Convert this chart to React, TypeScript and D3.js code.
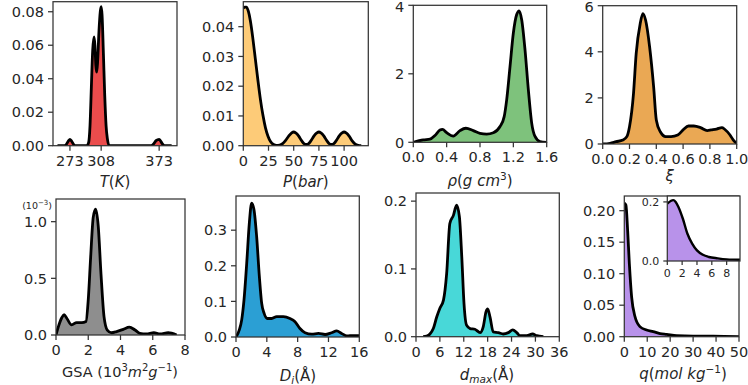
import React from "react";
import * as d3 from "d3";

// ---------- DATA ----------
const tX = [259, 267, 269.5, 271.5, 273, 274.5, 276.5, 279, 292, 294, 295.5, 297, 298.5, 300, 301, 302, 303, 304, 305.5, 307, 308, 309, 310.5, 312, 313.5, 315, 317, 364, 367, 369.5, 373, 376.5, 379, 387];
const tY = [0, 0, 0.0012, 0.003, 0.0038, 0.003, 0.0012, 0, 0, 0.002, 0.012, 0.035, 0.057, 0.065, 0.06, 0.048, 0.044, 0.05, 0.068, 0.08, 0.083, 0.078, 0.055, 0.03, 0.012, 0.004, 0, 0, 0.0012, 0.003, 0.0038, 0.0012, 0, 0];
const tTicks = [273, 308, 373];
const tYTicks = [0, 0.02, 0.04, 0.06, 0.08];

const pX = [0, 1.5, 3, 5, 7, 9.5, 12, 14.5, 17, 19.5, 22, 24.5, 27, 30, 33, 36, 39, 42, 45, 48, 50, 52, 55, 58, 60.5, 62.5, 64.5, 67, 70, 73, 75, 77, 80, 83, 85.5, 87.5, 89.5, 92, 95, 98, 100, 102, 105, 108, 111, 114, 117];
const pY = [0.0462, 0.0466, 0.0466, 0.0452, 0.042, 0.036, 0.029, 0.022, 0.0155, 0.0102, 0.006, 0.0032, 0.0014, 0.0004, 0.0001, 0.0002, 0.0007, 0.0018, 0.0032, 0.0043, 0.0046, 0.0043, 0.0032, 0.0016, 0.0006, 0.0004, 0.0006, 0.0016, 0.0032, 0.0043, 0.0046, 0.0043, 0.0032, 0.0016, 0.0006, 0.0004, 0.0006, 0.0016, 0.0032, 0.0043, 0.0046, 0.0043, 0.0032, 0.0016, 0.0005, 0.0001, 0];
const pTicks = [0, 25, 50, 75, 100];
const pYTicks = [0, 0.01, 0.02, 0.03, 0.04];

const rhoX = [0, 0.12, 0.2, 0.26, 0.32, 0.35, 0.4, 0.48, 0.56, 0.63, 0.72, 0.8, 0.88, 0.96, 1.04, 1.09, 1.12, 1.16, 1.2, 1.24, 1.27, 1.3, 1.34, 1.38, 1.42, 1.46, 1.52, 1.6];
const rhoY = [0.0, 0.07, 0.09, 0.2, 0.36, 0.38, 0.28, 0.18, 0.34, 0.41, 0.34, 0.26, 0.24, 0.28, 0.46, 0.75, 1.24, 2.21, 3.19, 3.73, 3.84, 3.58, 2.7, 1.53, 0.56, 0.17, 0.02, 0];
const rhoTicks = [0, 0.4, 0.8, 1.2, 1.6];
const rhoYTicks = [0, 2, 4];

const xiX = [0, 0.055, 0.1, 0.15, 0.18, 0.2, 0.23, 0.25, 0.28, 0.3, 0.32, 0.35, 0.38, 0.4, 0.43, 0.47, 0.51, 0.56, 0.6, 0.64, 0.68, 0.73, 0.78, 0.81, 0.85, 0.89, 0.91, 0.95, 0.975, 1.0];
const xiY = [0, 0.03, 0.1, 0.17, 0.32, 0.75, 2.2, 3.93, 5.23, 5.66, 5.38, 4.22, 2.49, 1.04, 0.53, 0.32, 0.32, 0.39, 0.61, 0.78, 0.78, 0.71, 0.58, 0.61, 0.65, 0.71, 0.64, 0.39, 0.17, 0.03];
const xiTicks = [0, 0.2, 0.4, 0.6, 0.8, 1.0];
const xiYTicks = [0, 2, 4, 6];

const gsaX = [0, 0.14, 0.35, 0.5, 0.66, 0.97, 1.28, 1.6, 1.86, 2.0, 2.15, 2.31, 2.46, 2.62, 2.79, 2.98, 3.18, 3.45, 3.76, 4.17, 4.55, 4.9, 5.2, 5.6, 6.07, 6.45, 6.96, 7.48];
const gsaY = [0, 0.07, 0.15, 0.18, 0.15, 0.09, 0.11, 0.11, 0.12, 0.31, 0.69, 1.04, 1.11, 0.96, 0.54, 0.16, 0.044, 0.02, 0.03, 0.05, 0.07, 0.044, 0.015, 0.01, 0.02, 0.01, 0.02, 0];
const gsaTicks = [0, 2, 4, 6, 8];
const gsaYTicks = [0, 0.5, 1.0];

const diX = [0, 0.43, 0.74, 1.04, 1.39, 1.73, 2.03, 2.34, 2.68, 3.03, 3.33, 3.64, 4.07, 4.63, 5.28, 6.15, 7.0, 7.66, 8.3, 8.96, 9.83, 10.7, 11.56, 12.4, 13.07, 13.7, 14.4, 15.2, 16];
const diY = [0, 0.02, 0.048, 0.104, 0.207, 0.32, 0.376, 0.357, 0.282, 0.17, 0.095, 0.067, 0.052, 0.052, 0.057, 0.057, 0.052, 0.043, 0.024, 0.012, 0.008, 0.01, 0.007, 0.012, 0.017, 0.01, 0.003, 0.004, 0.004];
const diTicks = [0, 4, 8, 12, 16];
const diYTicks = [0, 0.1, 0.2, 0.3];

const dmX = [1.8, 2.7, 3.5, 4.35, 5.2, 6.0, 6.9, 7.7, 8.5, 9.4, 10.2, 10.9, 11.5, 12.06, 12.7, 13.6, 14.8, 16.1, 16.9, 17.6, 18.0, 18.6, 19.4, 20.7, 21.9, 23.2, 24.3, 25.3, 26.1, 27.8, 29.3, 30.3, 32];
const dmY = [0, 0.001, 0.004, 0.012, 0.029, 0.042, 0.054, 0.093, 0.167, 0.179, 0.194, 0.177, 0.118, 0.049, 0.017, 0.012, 0.011, 0.006, 0.015, 0.037, 0.041, 0.029, 0.007, 0.006, 0.004, 0.006, 0.01, 0.006, 0.0015, 0.0015, 0.004, 0.0015, 0];
const dmTicks = [0, 6, 12, 18, 24, 30, 36];
const dmYTicks = [0, 0.1, 0.2];

const qX = [0, 0.7, 1.45, 2.2, 3.2, 4.65, 6.8, 9.7, 12.6, 15.6, 18.5, 22.8, 30, 38.8, 50];
const qY = [0.212, 0.209, 0.169, 0.116, 0.063, 0.032, 0.016, 0.0106, 0.008, 0.005, 0.0037, 0.0016, 0.001, 0.001, 0];
const qTicks = [0, 10, 20, 30, 40, 50];
const qYTicks = [0, 0.05, 0.1, 0.15, 0.2];

const qInX = [0, 0.8, 1.13, 1.5, 2.1, 2.7, 3.35, 4.0, 4.8, 5.6, 6.8, 8.0, 8.8, 9.8];
const qInY = [0.194, 0.206, 0.2, 0.183, 0.143, 0.093, 0.059, 0.036, 0.021, 0.0136, 0.009, 0.0056, 0.0045, 0.004];
const qInTicks = [0, 2, 4, 6, 8];
const qInYTicks = [0, 0.2];

// ---------- STYLE ----------
const TXT = "#262626";
const SPINE = "#333333";
const FONT = "DejaVu Sans, sans-serif";

type PanelProps = {
  id: string;
  left: number; right: number; top: number; bottom: number;
  xDomain: [number, number]; yDomain: [number, number];
  xTicks: number[]; yTicks: number[];
  xFmt: (v: number) => string; yFmt: (v: number) => string;
  xs: number[]; ys: number[];
  fill: string;
  fontSize?: number;
  tickLen?: number;
  bg?: boolean;
  lineW?: number;
};

function Panel(p: PanelProps) {
  const fs = p.fontSize ?? 14.5;
  const tl = p.tickLen ?? 5;
  const x = d3.scaleLinear().domain(p.xDomain).range([p.left, p.right]);
  const y = d3.scaleLinear().domain(p.yDomain).range([p.bottom, p.top]);
  const pts = p.xs.map((v, i) => [v, p.ys[i]] as [number, number]);
  const area = d3.area<[number, number]>().x(d => x(d[0])).y0(y(0)).y1(d => y(d[1])).curve(d3.curveMonotoneX);
  const line = d3.line<[number, number]>().x(d => x(d[0])).y(d => y(d[1])).curve(d3.curveMonotoneX);
  const cid = "clip-" + p.id;
  return (
    <g>
      <defs>
        <clipPath id={cid}>
          <rect x={p.left} y={p.top} width={p.right - p.left} height={p.bottom - p.top} />
        </clipPath>
      </defs>
      {p.bg && <rect x={p.left} y={p.top} width={p.right - p.left} height={p.bottom - p.top} fill="white" />}
      <g clipPath={`url(#${cid})`}>
        <path d={area(pts) || ""} fill={p.fill} />
        <path d={line(pts) || ""} fill="none" stroke="black" strokeWidth={p.lineW ?? 2.8} strokeLinejoin="round" />
      </g>
      <rect x={p.left} y={p.top} width={p.right - p.left} height={p.bottom - p.top} fill="none" stroke={SPINE} strokeWidth={1.25} />
      {p.xTicks.map((t, i) => (
        <g key={"x" + i}>
          <line x1={x(t)} x2={x(t)} y1={p.bottom} y2={p.bottom + tl} stroke={SPINE} strokeWidth={1.25} />
          <text x={x(t)} y={p.bottom + tl + 4 + fs * 0.76} textAnchor="middle" fontSize={fs} fill={TXT} fontFamily={FONT}>{p.xFmt(t)}</text>
        </g>
      ))}
      {p.yTicks.map((t, i) => (
        <g key={"y" + i}>
          <line x1={p.left - tl} x2={p.left} y1={y(t)} y2={y(t)} stroke={SPINE} strokeWidth={1.25} />
          <text x={p.left - tl - 4} y={Math.max(y(t) + fs * 0.36, fs * 0.76 + 1)} textAnchor="end" fontSize={fs} fill={TXT} fontFamily={FONT}>{p.yFmt(t)}</text>
        </g>
      ))}
    </g>
  );
}

const f0 = d3.format(".0f");
const f1 = d3.format(".1f");
const f2 = d3.format(".2f");

const it = { fontStyle: "italic" as const };

export default function App() {
  const W = 748, H = 385;
  const lblProps = { fontSize: 15, fill: TXT, fontFamily: FONT, textAnchor: "middle" as const };
  return (
    <svg width={W} height={H} style={{ position: "absolute", left: 0, top: 0, background: "white" }}>
      {/* Row 1 */}
      <Panel id="t" left={53} right={177} top={1.7} bottom={145.7} xDomain={[254, 393]} yDomain={[0, 0.086]}
        xTicks={tTicks} yTicks={tYTicks} xFmt={f0} yFmt={f2} xs={tX} ys={tY} fill="#ea4c4c" />
      <text x={115} y={187} {...lblProps}><tspan {...it}>T</tspan>(<tspan {...it}>K</tspan>)</text>

      <Panel id="p" left={243.3} right={368.3} top={1.7} bottom={145.7} xDomain={[0, 124]} yDomain={[0, 0.0484]}
        xTicks={pTicks} yTicks={pYTicks} xFmt={f0} yFmt={f2} xs={pX} ys={pY} fill="#fdcb78" />
      <text x={305.8} y={187} {...lblProps}><tspan {...it}>P</tspan>(<tspan {...it}>bar</tspan>)</text>

      <Panel id="rho" left={413.3} right={546.7} top={5.3} bottom={142.3} xDomain={[0, 1.6]} yDomain={[0, 4.0]}
        xTicks={rhoTicks} yTicks={rhoYTicks} xFmt={f1} yFmt={f0} xs={rhoX} ys={rhoY} fill="#7ec27c" />
      <text x={480} y={186} {...lblProps}><tspan {...it}>ρ</tspan>(<tspan {...it}>g cm</tspan><tspan fontSize={10.5} dy={-6}>3</tspan><tspan dy={6}>)</tspan></text>

      <Panel id="xi" left={602.7} right={736.7} top={5.7} bottom={144} xDomain={[0, 1]} yDomain={[0, 6]}
        xTicks={xiTicks} yTicks={xiYTicks} xFmt={f1} yFmt={f0} xs={xiX} ys={xiY} fill="#eaa854" />
      <text x={669.7} y={181} {...lblProps}><tspan {...it}>ξ</tspan></text>

      {/* Row 2 */}
      <Panel id="gsa" left={56} right={185} top={199} bottom={335} xDomain={[0, 8]} yDomain={[0, 1.2]}
        xTicks={gsaTicks} yTicks={gsaYTicks} xFmt={f0} yFmt={f1} xs={gsaX} ys={gsaY} fill="#8e8e8e" />
      <text x={52} y={209} fontSize={9.5} fill={TXT} fontFamily={FONT} textAnchor="end">(10<tspan fontSize={7} dy={-4}>−3</tspan><tspan dy={4}>)</tspan></text>
      <text x={120} y={377} {...lblProps} fontSize={14.5}>GSA (10<tspan fontSize={10} dy={-6}>3</tspan><tspan dy={6} {...it}>m</tspan><tspan fontSize={10} dy={-6}>2</tspan><tspan dy={6} {...it}>g</tspan><tspan fontSize={10} dy={-6}>−1</tspan><tspan dy={6}>)</tspan></text>

      <Panel id="di" left={236} right={359.3} top={196} bottom={337} xDomain={[0, 16]} yDomain={[0, 0.396]}
        xTicks={diTicks} yTicks={diYTicks} xFmt={f0} yFmt={f1} xs={diX} ys={diY} fill="#2b9fd4" />
      <text x={298} y={381} {...lblProps}><tspan {...it}>D</tspan><tspan {...it} fontSize={10.5} dy={3}>i</tspan><tspan dy={-3}>(Å)</tspan></text>

      <Panel id="dm" left={416} right={559.3} top={193} bottom={336.7} xDomain={[0, 36]} yDomain={[0, 0.212]}
        xTicks={dmTicks} yTicks={dmYTicks} xFmt={f0} yFmt={f1} xs={dmX} ys={dmY} fill="#48d8d8" />
      <text x={487} y={380} {...lblProps}><tspan {...it}>d</tspan><tspan {...it} fontSize={10.5} dy={3}>max</tspan><tspan dy={-3}>(Å)</tspan></text>

      <Panel id="q" left={624.3} right={739} top={196} bottom={336.7} xDomain={[0, 50]} yDomain={[0, 0.2233]}
        xTicks={qTicks} yTicks={qYTicks} xFmt={f0} yFmt={f2} xs={qX} ys={qY} fill="#b892ea" />
      <text x={683} y={379} {...lblProps}><tspan {...it}>q</tspan>(<tspan {...it}>mol kg</tspan><tspan fontSize={10.5} dy={-6}>−1</tspan><tspan dy={6}>)</tspan></text>

      <Panel id="qin" left={667.3} right={740} top={196} bottom={261} xDomain={[0, 9.8]} yDomain={[0, 0.22]}
        xTicks={qInTicks} yTicks={qInYTicks} xFmt={f0} yFmt={f1} xs={qInX} ys={qInY} fill="#b892ea"
        fontSize={11} tickLen={4} bg lineW={2.4} />
    </svg>
  );
}
